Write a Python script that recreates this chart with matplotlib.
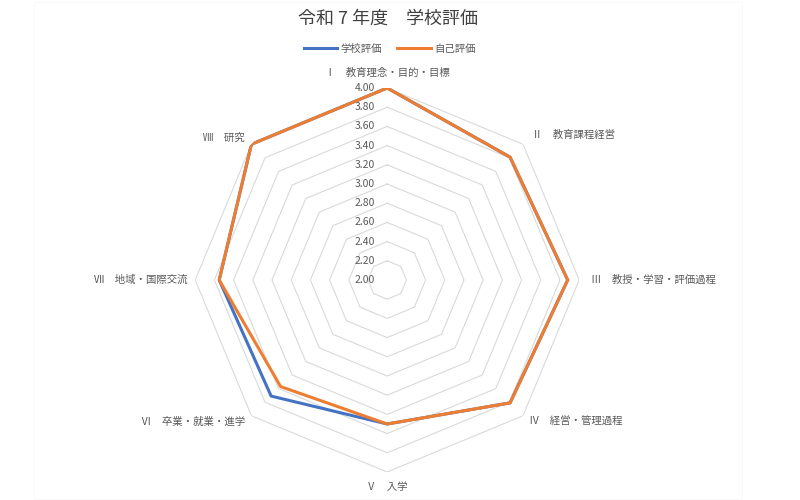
import matplotlib.pyplot as plt
import matplotlib.transforms as mtransforms
import numpy as np

plt.rcParams['font.family'] = ['Noto Sans CJK JP', 'DejaVu Sans']

# Gegevens
categorieen = ['Ⅰ　教育理念・目的・目標', 'Ⅱ　教育課程経営', 'Ⅲ　教授・学習・評価過程',
               'Ⅳ　経営・管理過程', 'Ⅴ　入学', 'Ⅵ　卒業・就業・進学',
               'Ⅶ　地域・国際交流', 'Ⅷ　研究']
gakko_hyoka = [4.00, 3.81, 3.88, 3.81, 3.50, 3.71, 3.75, 4.00]
jiko_hyoka = [4.00, 3.81, 3.88, 3.81, 3.50, 3.57, 3.75, 4.00]
ringen = [2.00, 2.20, 2.40, 2.60, 2.80, 3.00, 3.20, 3.40, 3.60, 3.80, 4.00]

tekst_kleur = '#595959'
blauw = '#4472C4'
oranje = '#ED7D31'

fig = plt.figure(figsize=(8, 5), dpi=100)

# Zeer lichte rand rond het diagram
fig.add_artist(plt.Rectangle((0.043, 0.002), 0.885, 0.995, transform=fig.transFigure,
                             fill=False, edgecolor='#f8f8f8', lw=0.6))

ax = fig.add_axes([0.244, 0.056, 0.48, 0.768], projection='polar')
ax.set_theta_offset(np.pi / 2)
ax.set_theta_direction(-1)
ax.set_ylim(2.0, 4.0)
ax.grid(False)
ax.spines['polar'].set_visible(False)
ax.set_xticks([])
ax.set_yticks([])
ax.patch.set_alpha(0)

n = len(categorieen)
hoeken = np.linspace(0, 2 * np.pi, n, endpoint=False)
hoeken_dicht = np.append(hoeken, hoeken[0])

# Achthoekige ringen
for r in ringen[1:]:
    ax.plot(hoeken_dicht, [r] * (n + 1), color='#d9d9d9', lw=0.8, zorder=1)

# Waardelabels langs de bovenste as
offset = mtransforms.offset_copy(ax.transData, fig=fig, x=-12, y=0, units='dots')
for r in ringen:
    ax.text(0, r, f'{r:.2f}', transform=offset, ha='right', va='center',
            fontsize=7.5, color=tekst_kleur)

# Series
ax.plot(hoeken_dicht, gakko_hyoka + gakko_hyoka[:1], color=blauw, lw=2.2, zorder=3)
ax.plot(hoeken_dicht, jiko_hyoka + jiko_hyoka[:1], color=oranje, lw=2.2, zorder=4)

# Categorielabels
uitlijning = [('center', 'bottom'), ('left', 'center'), ('left', 'center'), ('left', 'center'),
              ('center', 'top'), ('right', 'center'), ('right', 'center'), ('right', 'center')]
afstand = [4.11, 4.13, 4.12, 4.09, 4.1, 4.09, 4.08, 4.1]
for hoek, naam, (ha, va), r in zip(hoeken, categorieen, uitlijning, afstand):
    ax.text(hoek, r, naam, ha=ha, va=va, fontsize=7.5, color=tekst_kleur)

fig.text(0.485, 0.962, '令和 7 年度　学校評価', ha='center', va='center',
         fontsize=13, color='#404040')

lijnen = [plt.Line2D([], [], color=blauw, lw=2.2), plt.Line2D([], [], color=oranje, lw=2.2)]
fig.legend(lijnen, ['学校評価', '自己評価'], loc='center', bbox_to_anchor=(0.487, 0.903),
           ncol=2, frameon=False, fontsize=7.5, labelcolor=tekst_kleur,
           handlelength=3.2, handletextpad=0.3, columnspacing=1.5)

fig.savefig('out.png', dpi=100)
